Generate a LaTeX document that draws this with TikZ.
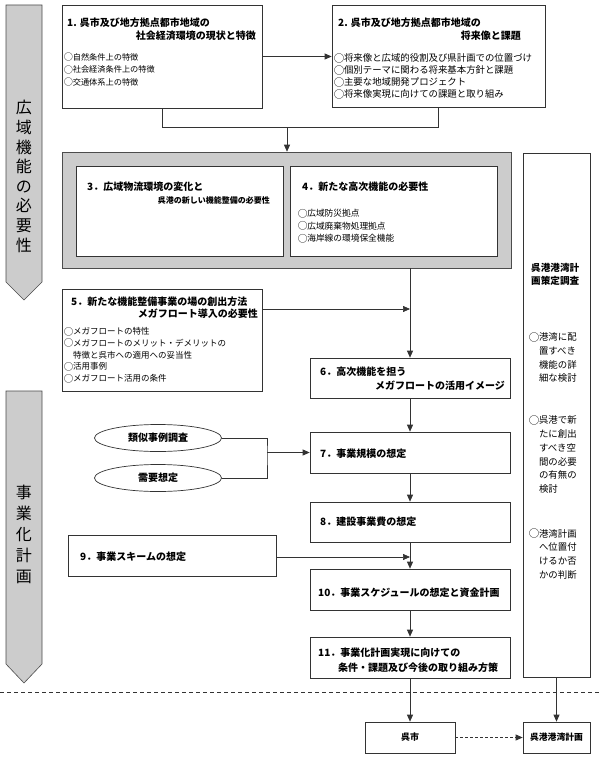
\documentclass[tikz,border=0pt]{standalone}
\usepackage{fontspec}
\usepackage{graphicx}
\setmainfont{Noto Sans CJK JP}
\usetikzlibrary{arrows.meta,shapes.geometric}
\newcommand\maru{\makebox[1.05em][c]{\raisebox{-0.06em}{\scalebox{1.12}{○}}}}
\begin{document}
\begin{tikzpicture}[x=1pt,y=-1pt,
  ln/.style={draw=black!80, line width=0.7pt},
  box/.style={ln, fill=white, inner sep=0pt},
  arr/.style={ln, -{Triangle[length=7pt,width=6pt]}},
  banner/.style={draw=black!70, line width=0.6pt, fill=black!20},
  hd/.style={inner sep=0pt, font=\bfseries\fontsize{10}{12}\selectfont},
  bl/.style={inner sep=0pt, anchor=west, align=left},
  bigt/.style={inner sep=0pt, align=center, font=\fontsize{16}{20}\selectfont}
]
\fill[white] (0,0) rectangle (600,760);
\useasboundingbox (0,0) rectangle (600,760);

% left banners
\draw[banner] (6,5) -- (42,5) -- (42,282) -- (24,300) -- (6,282) -- cycle;
\node[bigt, font=\fontsize{16}{19.6}\selectfont] (bt1) at (24,176.5) {広\\域\\機\\能\\の\\必\\要\\性};
\draw[banner] (6,391) -- (42,391) -- (42,664) -- (24,683) -- (6,664) -- cycle;
\node[bigt, font=\fontsize{16}{21}\selectfont] (bt2) at (24,534) {事\\業\\化\\計\\画};

% dashed separator
\coordinate (dl) at (0,692);
\coordinate (dr) at (600,692);
\draw[ln, dash pattern=on 4pt off 3pt] (dl) -- (dr);

% box 1
\node[box, minimum width=200pt, minimum height=103pt] (b1) at (162,56.5) {};
\node[hd, anchor=west] (b1t1) at (67,23) {1. 呉市及び地方拠点都市地域の};
\node[hd, anchor=east] (b1t2) at (256,36) {社会経済環境の現状と特徴};
\node[bl, font=\fontsize{8.2}{12.5}\selectfont] (b1b) at (64,70) {\maru 自然条件上の特徴\\\maru 社会経済条件上の特徴\\\maru 交通体系上の特徴};

% box 2
\node[box, minimum width=213pt, minimum height=102pt] (b2) at (438.5,56) {};
\node[hd, anchor=west] (b2t1) at (338,23) {2. 呉市及び地方拠点都市地域の};
\node[hd, anchor=east] (b2t2) at (521,36) {将来像と課題};
\node[bl, font=\fontsize{9.4}{12}\selectfont] (b2b) at (334,76) {\maru 将来像と広域的役割及び県計画での位置づけ\\\maru 個別テーマに関わる将来基本方針と課題\\\maru 主要な地域開発プロジェクト\\\maru 将来像実現に向けての課題と取り組み};

% gray group
\node[draw=black!70, line width=0.6pt, fill=black!20, inner sep=0pt, minimum width=449pt, minimum height=116pt] (g) at (286.5,210) {};
\node[box, minimum width=207pt, minimum height=90pt] (b3) at (179.5,211) {};
\node[box, minimum width=207pt, minimum height=90pt] (b4) at (393.5,211) {};
\node[hd, anchor=west] (b3t1) at (87,187) {3．広域物流環境の変化と};
\node[hd, anchor=east, font=\bfseries\fontsize{8}{10}\selectfont] (b3t2) at (270,200) {呉港の新しい機能整備の必要性};
\node[hd, anchor=west] (b4t1) at (302,187) {4．新たな高次機能の必要性};
\node[bl, font=\fontsize{8.7}{12.5}\selectfont] (b4b) at (298,226) {\maru 広域防災拠点\\\maru 広域廃棄物処理拠点\\\maru 海岸線の環境保全機能};

% connectors top
\coordinate (j1) at (162,127);
\coordinate (j2) at (287,127);
\draw[arr] (b1.east) -- (b1.east -| b2.west);
\draw[ln] (b1.south) -- (j1) -| (b2.south);
\draw[arr] (j2) -- (j2 |- g.north);

% right column
\node[box, minimum width=67pt, minimum height=524pt] (rc) at (556.5,415) {};
\node[bl, font=\bfseries\fontsize{9.6}{13}\selectfont] (rct) at (531,274) {呉港港湾計\\画策定調査};
\node[bl, font=\fontsize{9.4}{13.7}\selectfont] (rc1) at (529,357.5) {\maru 港湾に配\\\hspace*{1.05em}置すべき\\\hspace*{1.05em}機能の詳\\\hspace*{1.05em}細な検討};
\node[bl, font=\fontsize{9.4}{13.7}\selectfont] (rc2) at (529,454.5) {\maru 呉港で新\\\hspace*{1.05em}たに創出\\\hspace*{1.05em}すべき空\\\hspace*{1.05em}間の必要\\\hspace*{1.05em}の有無の\\\hspace*{1.05em}検討};
\node[bl, font=\fontsize{9.4}{13.7}\selectfont] (rc3) at (529,554) {\maru 港湾計画\\\hspace*{1.05em}へ位置付\\\hspace*{1.05em}けるか否\\\hspace*{1.05em}かの判断};

% box 5
\node[box, minimum width=200pt, minimum height=102pt] (b5) at (162,340) {};
\node[hd, anchor=west] (b5t1) at (71,302) {5．新たな機能整備事業の場の創出方法};
\node[hd, anchor=east] (b5t2) at (258,314) {メガフロート導入の必要性};
\node[bl, font=\fontsize{8.5}{11.7}\selectfont] (b5b) at (64,355) {\maru メガフロートの特性\\\maru メガフロートのメリット・デメリットの\\\hspace*{1.05em}特徴と呉市への適用への妥当性\\\maru 活用事例\\\maru メガフロート活用の条件};

% box 6
\node[box, minimum width=200pt, minimum height=40pt] (b6) at (410,378) {};
\node[hd, anchor=west] (b6t1) at (320,372) {6．高次機能を担う};
\node[hd, anchor=east] (b6t2) at (505,386) {メガフロートの活用イメージ};
\coordinate (j3) at (410,309);
\draw[arr] (g.south -| b6.north) -- (b6.north);
\draw[arr] (b5.east |- j3) -- (j3);

% ellipses and box 7
\node[draw=black!80, line width=0.7pt, ellipse, minimum width=127pt, minimum height=27pt, inner sep=0pt, font=\bfseries\fontsize{10}{12}\selectfont] (e1) at (158,438) {類似事例調査};
\node[draw=black!80, line width=0.7pt, ellipse, minimum width=127pt, minimum height=27pt, inner sep=0pt, font=\bfseries\fontsize{10}{12}\selectfont] (e2) at (158,478) {需要想定};
\node[box, minimum width=200pt, minimum height=41pt] (b7) at (410,452.5) {};
\node[hd, anchor=west] (b7t) at (320,454) {7．事業規模の想定};
\coordinate (j5) at (267,452.5);
\draw[ln] (e1.east) -| (j5) |- (e2.east);
\draw[arr] (j5) -- (b7.west);
\draw[arr] (b6.south) -- (b7.north);

% box 8
\node[box, minimum width=200pt, minimum height=40pt] (b8) at (410,522) {};
\node[hd, anchor=west] (b8t) at (320,522) {8．建設事業費の想定};
\draw[arr] (b7.south) -- (b8.north);

% box 9
\node[box, minimum width=208pt, minimum height=41pt] (b9) at (172,555.5) {};
\node[hd, anchor=west] (b9t) at (80,557) {9．事業スキームの想定};
\coordinate (j6) at (410,557);
\draw[arr] (b9.east |- j6) -- (j6);

% box 10
\node[box, minimum width=200pt, minimum height=41pt] (b10) at (410,589.5) {};
\node[hd, anchor=west] (b10t) at (318,593) {10．事業スケジュールの想定と資金計画};
\draw[arr] (b8.south) -- (b10.north);

% box 11
\node[box, minimum width=200pt, minimum height=41pt] (b11) at (410,657.5) {};
\node[hd, anchor=west] (b11t1) at (318,653) {11．事業化計画実現に向けての};
\node[hd, anchor=west] (b11t2) at (338,668) {条件・課題及び今後の取り組み方策};
\draw[arr] (b10.south) -- (b11.north);

% bottom boxes
\node[box, minimum width=90pt, minimum height=31pt, font=\bfseries\fontsize{9}{11}\selectfont] (k1) at (410,737.5) {呉市};
\node[box, minimum width=67pt, minimum height=31pt, font=\bfseries\fontsize{8.8}{11}\selectfont] (k2) at (556.5,737.5) {呉港港湾計画};
\draw[arr] (b11.south) -- (k1.north);
\draw[arr] (rc.south) -- (k2.north);
\draw[arr, dash pattern=on 3pt off 2pt] (k1.east) -- (k2.west);
\end{tikzpicture}
\end{document}
